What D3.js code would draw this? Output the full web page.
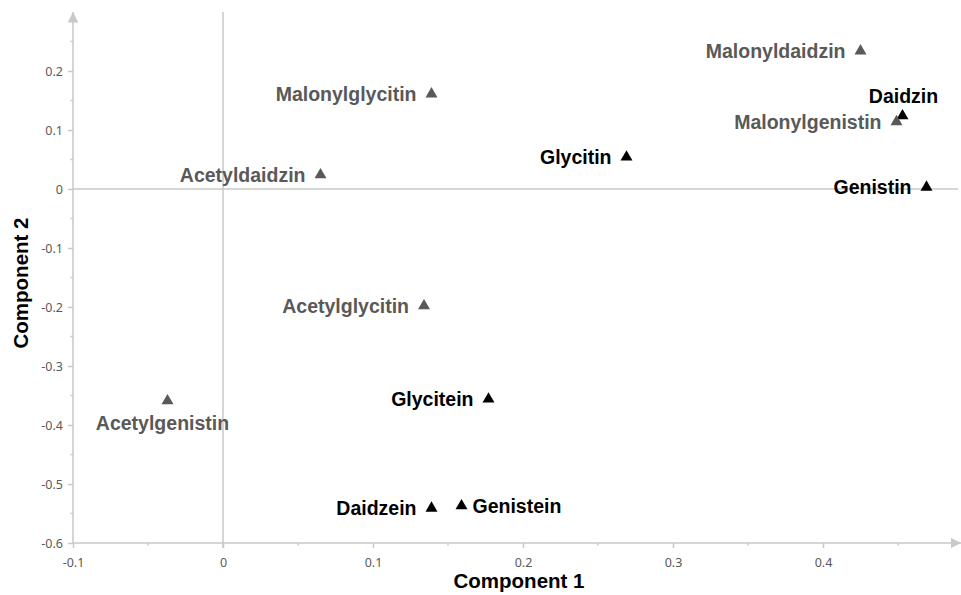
<!DOCTYPE html>
<html>
<head>
<meta charset="utf-8">
<script src="https://cdn.jsdelivr.net/npm/d3@7"></script>
<style>
  body { margin: 0; background: #fff; }
  .tick text { font-family: "Noto Sans", "Open Sans", sans-serif; font-size: 12.5px; fill: #595959; }
  .lbl { font-family: "Liberation Sans", Arial, sans-serif; font-weight: bold; font-size: 19.5px; }
  .title { font-family: "Liberation Sans", Arial, sans-serif; font-weight: bold; fill: #000; }
</style>
</head>
<body>
<div id="chart"></div>
<script>
// compounds, PCA loadings
var names = ["Malonyldaidzin", "Daidzin", "Malonylgenistin", "Genistin", "Glycitin",
  "Malonylglycitin", "Acetyldaidzin", "Acetylglycitin", "Acetylgenistin",
  "Glycitein", "Daidzein", "Genistein"];
var comp1 = [0.425, 0.453, 0.449, 0.469, 0.269, 0.139, 0.065, 0.134, -0.037, 0.177, 0.139, 0.159];
var comp2 = [0.234, 0.124, 0.114, 0.003, 0.054, 0.161, 0.024, -0.198, -0.359, -0.356, -0.541, -0.537];
// group: "d" = dark/black, "g" = gray (malonyl / acetyl forms)
var groups = ["g", "d", "g", "d", "d", "g", "g", "g", "g", "d", "d", "d"];
// where the label sits relative to its point
var labelPos = ["left", "above", "left", "left", "left", "left", "left", "left", "below", "left", "left", "right"];

var xTicks = [-0.1, 0, 0.1, 0.2, 0.3, 0.4];
var yTicks = [-0.6, -0.5, -0.4, -0.3, -0.2, -0.1, 0, 0.1, 0.2];

var W = 961, H = 595;
var margin = { top: 12, right: 3, bottom: 52, left: 73 };

var x = d3.scaleLinear().domain([-0.1, 0.49]).range([margin.left, W - margin.right]);
var y = d3.scaleLinear().domain([-0.6, 0.3]).range([H - margin.bottom, margin.top]);

var axisColor = "#c8c8c8";
var colors = { d: "#000000", g: "#595959" };

// plain hyphen for negatives, like the original
function fmt(d) {
    if (d === 0) return "0";
    return d3.format(".1f")(d).replace("\u2212", "-");
}

var svg = d3.select("#chart").append("svg")
    .attr("width", W)
    .attr("height", H);

// arrow heads
var defs = svg.append("defs");
defs.append("marker")
    .attr("id", "arrow")
    .attr("viewBox", "0 0 10 10")
    .attr("refX", 10).attr("refY", 5)
    .attr("markerWidth", 7).attr("markerHeight", 7)
    .attr("markerUnits", "strokeWidth")
    .attr("orient", "auto")
    .append("path")
    .attr("d", "M0,0 L10,5 L0,10 Z")
    .attr("fill", axisColor);

// zero lines
svg.append("line")
    .attr("x1", x(0)).attr("x2", x(0))
    .attr("y1", y(0.3)).attr("y2", y(-0.6) + 5)
    .attr("stroke", axisColor).attr("stroke-width", 1.5);
svg.append("line")
    .attr("x1", x(-0.1)).attr("x2", x(0.49))
    .attr("y1", y(0)).attr("y2", y(0))
    .attr("stroke", axisColor).attr("stroke-width", 1.5);

// minor ticks
var xMinor = [-0.05, 0.05, 0.15, 0.25, 0.35, 0.45];
var yMinor = [-0.55, -0.45, -0.35, -0.25, -0.15, -0.05, 0.05, 0.15, 0.25];

svg.append("g").selectAll("line").data(xMinor).enter().append("line")
    .attr("x1", function(d) { return x(d); }).attr("x2", function(d) { return x(d); })
    .attr("y1", y(-0.6)).attr("y2", y(-0.6) + 2.5)
    .attr("stroke", axisColor).attr("stroke-width", 1.5);
svg.append("g").selectAll("line").data(yMinor).enter().append("line")
    .attr("x1", x(-0.1) - 2.5).attr("x2", x(-0.1))
    .attr("y1", function(d) { return y(d); }).attr("y2", function(d) { return y(d); })
    .attr("stroke", axisColor).attr("stroke-width", 1.5);

// x axis
var gx = svg.append("g")
    .attr("transform", "translate(0," + y(-0.6) + ")")
    .call(d3.axisBottom(x).tickValues(xTicks).tickSize(5).tickSizeOuter(0).tickFormat(fmt));
gx.select(".domain").remove();
gx.selectAll(".tick line").attr("stroke", axisColor).attr("stroke-width", 1.5);
gx.selectAll(".tick text").attr("dy", "1.25em");

// y axis
var gy = svg.append("g")
    .attr("transform", "translate(" + x(-0.1) + ",0)")
    .call(d3.axisLeft(y).tickValues(yTicks).tickSize(5).tickSizeOuter(0).tickFormat(fmt));
gy.select(".domain").remove();
gy.selectAll(".tick line").attr("stroke", axisColor).attr("stroke-width", 1.5);
gy.selectAll(".tick text").attr("x", -10);

// axis lines with arrows
svg.append("line")
    .attr("x1", x(-0.1)).attr("x2", x(-0.1))
    .attr("y1", y(-0.6)).attr("y2", y(0.3))
    .attr("stroke", axisColor).attr("stroke-width", 1.5)
    .attr("marker-end", "url(#arrow)");
svg.append("line")
    .attr("x1", x(-0.1)).attr("x2", x(0.49) + 3)
    .attr("y1", y(-0.6)).attr("y2", y(-0.6))
    .attr("stroke", axisColor).attr("stroke-width", 1.5)
    .attr("marker-end", "url(#arrow)");

// points
var data = names.map(function(n, i) {
    return { name: n, c1: comp1[i], c2: comp2[i], grp: groups[i], pos: labelPos[i] };
});

var tri = d3.symbol().type(d3.symbolTriangle).size(62);

svg.append("g").selectAll("path")
    .data(data)
    .enter().append("path")
    .attr("d", tri)
    .attr("transform", function(d) { return "translate(" + x(d.c1) + "," + y(d.c2) + ")"; })
    .attr("fill", function(d) { return colors[d.grp]; });

svg.append("g").selectAll("text")
    .data(data)
    .enter().append("text")
    .attr("class", "lbl")
    .attr("fill", function(d) { return colors[d.grp]; })
    .attr("x", function(d) {
        var px = x(d.c1);
        if (d.pos === "left") return px - 15;
        if (d.pos === "right") return px + 11;
        if (d.pos === "above") return px + 1;
        return px - 5;
    })
    .attr("y", function(d) {
        var py = y(d.c2);
        if (d.pos === "above") return py - 13;
        if (d.pos === "below") return py + 29;
        return py + 7;
    })
    .attr("text-anchor", function(d) {
        if (d.pos === "left") return "end";
        if (d.pos === "right") return "start";
        return "middle";
    })
    .text(function(d) { return d.name; });

// axis titles
svg.append("text")
    .attr("class", "title")
    .attr("font-size", "20.5px")
    .attr("x", 519).attr("y", 588)
    .attr("text-anchor", "middle")
    .text("Component 1");

svg.append("text")
    .attr("class", "title")
    .attr("font-size", "20.5px")
    .attr("transform", "translate(28,283) rotate(-90)")
    .attr("text-anchor", "middle")
    .text("Component 2");
</script>
</body>
</html>
